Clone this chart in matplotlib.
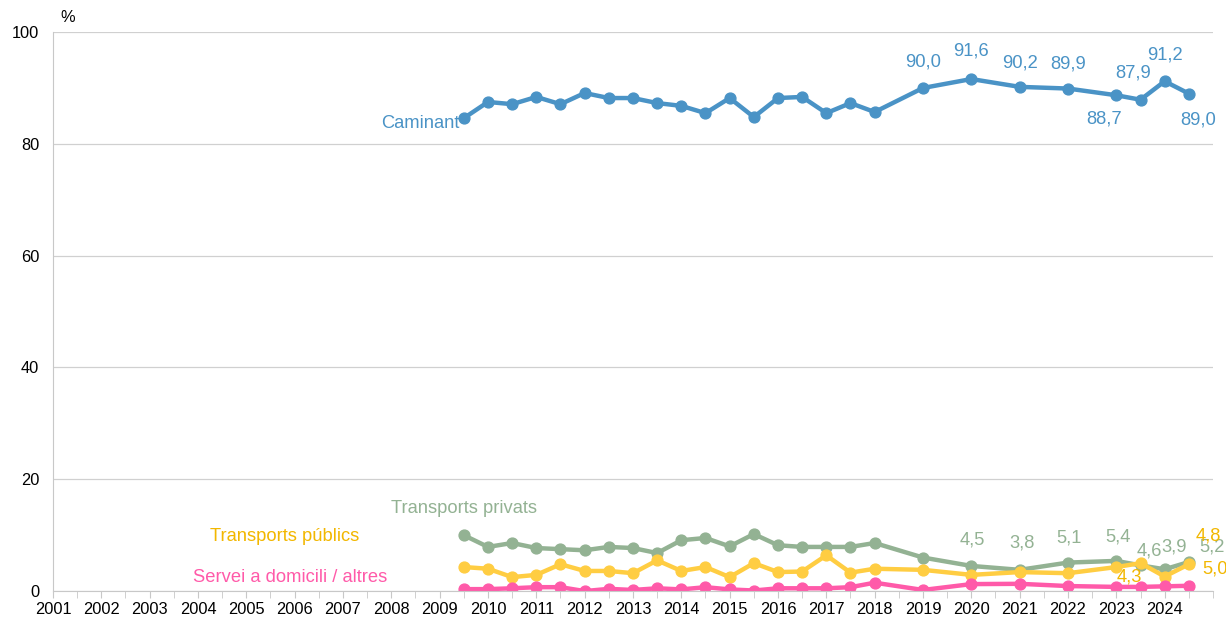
import matplotlib.pyplot as plt
from matplotlib.ticker import MultipleLocator

plt.rcParams['font.family'] = ['Liberation Sans', 'DejaVu Sans']

# half-year points 2009.5 .. 2018, then yearly, then half-year again at the end
periods = [2009.5, 2010, 2010.5, 2011, 2011.5, 2012, 2012.5, 2013, 2013.5,
           2014, 2014.5, 2015, 2015.5, 2016, 2016.5, 2017, 2017.5, 2018,
           2019, 2020, 2021, 2022, 2023, 2023.5, 2024, 2024.5]

caminant = [84.6, 87.5, 87.1, 88.4, 87.1, 89.1, 88.2, 88.2, 87.3,
            86.8, 85.5, 88.2, 84.8, 88.2, 88.4, 85.5, 87.3, 85.7,
            90.0, 91.6, 90.2, 89.9, 88.7, 87.9, 91.2, 89.0]
privats = [10.0, 7.9, 8.6, 7.7, 7.5, 7.3, 7.9, 7.7, 6.8,
           9.1, 9.5, 8.0, 10.2, 8.2, 7.9, 7.9, 7.9, 8.6,
           6.0, 4.5, 3.8, 5.1, 5.4, 4.6, 3.9, 5.2]
publics = [4.3, 4.0, 2.5, 2.9, 4.8, 3.6, 3.6, 3.2, 5.5,
           3.6, 4.3, 2.5, 5.0, 3.4, 3.5, 6.4, 3.3, 4.0,
           3.8, 2.9, 3.4, 3.2, 4.3, 5.0, 2.6, 4.8]
domicili = [0.35, 0.35, 0.5, 0.7, 0.7, 0.0, 0.4, 0.2, 0.5,
            0.3, 0.7, 0.3, 0.1, 0.5, 0.5, 0.5, 0.7, 1.5,
            0.2, 1.25, 1.3, 0.9, 0.75, 0.75, 0.85, 0.95]

years = list(range(2001, 2025))

blue = '#4a93c6'
green = '#93b293'
yellow = '#ffcd42'
yellow_txt = '#f2b700'
pink = '#ff5aa9'

fig = plt.figure(figsize=(12.26, 6.17), dpi=100)
ax = fig.add_axes([0.0432, 0.042, 0.9462, 0.906])

for vals, c in [(caminant, blue), (privats, green), (publics, yellow), (domicili, pink)]:
    ax.plot(periods, vals, color=c, lw=3.2, marker='o', ms=7.8, solid_joinstyle='round')

ax.set_xlim(2001, 2025)
ax.set_ylim(0, 100)
ax.set_yticks(range(0, 101, 20))
ax.set_xticks(years)
ax.set_xticklabels([str(y) for y in years])
ax.xaxis.set_minor_locator(MultipleLocator(0.5))
ax.yaxis.grid(True, color='#d0d0d0', lw=0.9)
ax.set_axisbelow(True)
for s in ['top', 'right']:
    ax.spines[s].set_visible(False)
ax.spines['left'].set_color('#c8c8c8')
ax.spines['bottom'].set_color('#c8c8c8')
ax.tick_params(axis='y', length=0, pad=10, labelsize=11.8)
ax.tick_params(axis='x', which='both', length=5, color='#c8c8c8', direction='out', labelsize=11.8, pad=3)
ax.text(0.013, 1.012, '%', transform=ax.transAxes, fontsize=11.8, ha='center', va='bottom')

fs = 13.2

# series names
ax.annotate('Caminant', (periods[0], caminant[0]), xytext=(-3, -4), textcoords='offset points',
            ha='right', va='center', color=blue, fontsize=fs)
ax.text(2009.5, 14.8, 'Transports privats', color=green, fontsize=fs, ha='center', va='center')
ax.text(2005.8, 9.8, 'Transports públics', color=yellow_txt, fontsize=fs, ha='center', va='center')
ax.text(2005.9, 2.5, 'Servei a domicili / altres', color=pink, fontsize=fs, ha='center', va='center')


def fmt(v):
    return f'{v:.1f}'.replace('.', ',')


# value labels: (index, offset in points)
cam_lab = [(18, (0, 19)), (19, (0, 20)), (20, (0, 17)), (21, (0, 18)),
           (22, (-9, -17)), (23, (-5, 19)), (24, (0, 19)), (25, (7, -19))]
for i, off in cam_lab:
    ax.annotate(fmt(caminant[i]), (periods[i], caminant[i]), xytext=off, textcoords='offset points',
                ha='center', va='center', color=blue, fontsize=fs)

priv_lab = [(19, (1, 19)), (20, (2, 19)), (21, (1, 18)), (22, (1, 17)),
            (23, (6, 10)), (24, (7, 16)), (25, (17, 11))]
for i, off in priv_lab:
    ax.annotate(fmt(privats[i]), (periods[i], privats[i]), xytext=off, textcoords='offset points',
                ha='center', va='center', color=green, fontsize=fs)

pub_lab = [(22, (9, -7)), (25, (14, 20)), (23, (54, -4))]
for i, off in pub_lab:
    ax.annotate(fmt(publics[i]), (periods[i], publics[i]), xytext=off, textcoords='offset points',
                ha='center', va='center', color=yellow_txt, fontsize=fs)

fig.savefig('out.png', dpi=100)
